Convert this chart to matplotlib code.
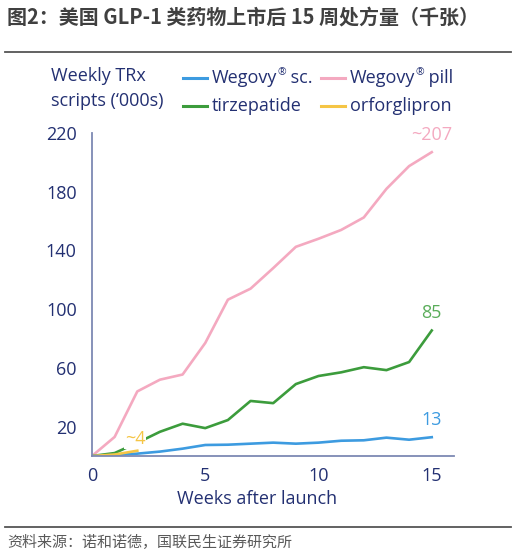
import matplotlib
matplotlib.use('Agg')
import matplotlib.pyplot as plt
from matplotlib.lines import Line2D

plt.rcParams['font.family'] = ['Open Sans', 'DejaVu Sans']

# weekly TRx scripts ('000s) by week after launch
weeks = list(range(16))
wegovy_sc = [0, 0.7, 1.6, 3, 5, 7.5, 7.7, 8.4, 9.1, 8.4, 9.1, 10.4, 10.7, 12.5, 11.1, 12.8]
wegovy_pill = [0, 13, 44, 52, 55.5, 77, 106.5, 114, 128, 142.5, 148, 154, 162.5, 182, 197.5, 207]
tirzepatide = [0, 2, 9, 16.5, 22, 19, 24.5, 37.5, 36, 49, 54.5, 57, 60.5, 58.5, 64, 85.5]
orf_weeks = [0, 1, 2]
orforglipron = [0, 1, 3.6]

# legend names: (main text, superscript, rest)
series_names = [('Wegovy', '®', ' sc.'), ('Wegovy', '®', ' pill'),
                ('tirzepatide', '', ''), ('orforglipron', '', '')]
colors = ['#3d9be0', '#f4a9c0', '#3c9c3c', '#f5c545']
end_labels = ['13', '~207', '85']
y_ticks = [20, 60, 100, 140, 180, 220]
x_ticks = [0, 5, 10, 15]

navy = '#233072'
axis_col = '#7d89b3'
fs = 13

fig = plt.figure(figsize=(5.16, 5.55), dpi=100)

# header / footer
fig.text(7 / 516, 1 - 17 / 555, '图2：美国 GLP-1 类药物上市后 15 周处方量（千张）',
         family=['Noto Sans CJK SC', 'DejaVu Sans'], fontsize=14.4,
         fontweight='bold', color='#404040', va='center', ha='left')
fig.add_artist(Line2D([5 / 516, 511 / 516], [1 - 52 / 555] * 2, color='#555555', lw=1.3))
fig.add_artist(Line2D([5 / 516, 511 / 516], [1 - 527 / 555] * 2, color='#555555', lw=1.3))
fig.text(7 / 516, 1 - 543 / 555, '资料来源：诺和诺德，国联民生证券研究所',
         family=['Noto Sans CJK SC', 'DejaVu Sans'], fontsize=10.8,
         color='#595959', va='center', ha='left')

ax = fig.add_axes([92 / 516, 1 - 456 / 555, (454.4 - 92) / 516, (456 - 131.6) / 555])

ax.plot(weeks, wegovy_pill, color=colors[1], lw=1.9, solid_joinstyle='round')
ax.plot(weeks, tirzepatide, color=colors[2], lw=1.9, solid_joinstyle='round')
ax.plot(weeks, wegovy_sc, color=colors[0], lw=1.9, solid_joinstyle='round')
ax.plot(orf_weeks, orforglipron, color=colors[3], lw=1.9, solid_joinstyle='round')

ax.set_xlim(0, 16)
ax.set_ylim(0, 221)
for s in ['top', 'right']:
    ax.spines[s].set_visible(False)
for s in ['left', 'bottom']:
    ax.spines[s].set_color(axis_col)
    ax.spines[s].set_linewidth(1.3)
ax.spines['left'].set_bounds(0, 220)

ax.set_yticks(y_ticks)
ax.set_xticks(x_ticks)
ax.tick_params(axis='both', length=0, labelsize=fs, labelcolor=navy)
ax.tick_params(axis='y', pad=11)
ax.tick_params(axis='x', pad=8)

# end-of-line labels
ax.text(15, 218.5, end_labels[1], color=colors[1], fontsize=fs, ha='center', va='center')
ax.text(15, 97.5, end_labels[2], color='#5aad5a', fontsize=fs, ha='center', va='center')
ax.text(15, 24.5, end_labels[0], color=colors[0], fontsize=fs, ha='center', va='center')
ax.text(1.9, 11.5, '~4', color=colors[3], fontsize=fs, ha='center', va='center',
        bbox=dict(facecolor='white', edgecolor='none', pad=0.5))

fig.text(257 / 516, 1 - 499 / 555, 'Weeks after launch', color=navy, fontsize=fs,
         ha='center', va='center')

# axis title and legend
fig.text(51 / 516, 1 - 76 / 555, 'Weekly TRx', color=navy, fontsize=fs, va='center')
fig.text(51 / 516, 1 - 101 / 555, 'scripts (‘000s)', color=navy, fontsize=fs, va='center')

leg_pos = [(183, 78), (321, 78), (183, 106), (321, 106)]
for (px, py), (main, sup, rest), c in zip(leg_pos, series_names, colors):
    fig.add_artist(Line2D([px / 516, (px + 24) / 516], [1 - py / 555] * 2, color=c, lw=2.2))
    t1 = fig.text((px + 29) / 516, 1 - py / 555, main, color=navy, fontsize=fs, va='center')
    if sup:
        # small superscript sign, then the rest back on the baseline
        t2 = ax.annotate(sup, xy=(1, 0.78), xycoords=t1, color=navy, fontsize=7.5,
                         ha='left', va='center', annotation_clip=False)
        ax.annotate(rest, xy=(1, 0.5), xycoords=(t2, t1), color=navy, fontsize=fs,
                    ha='left', va='center', annotation_clip=False)

fig.savefig('out.png', dpi=100)
